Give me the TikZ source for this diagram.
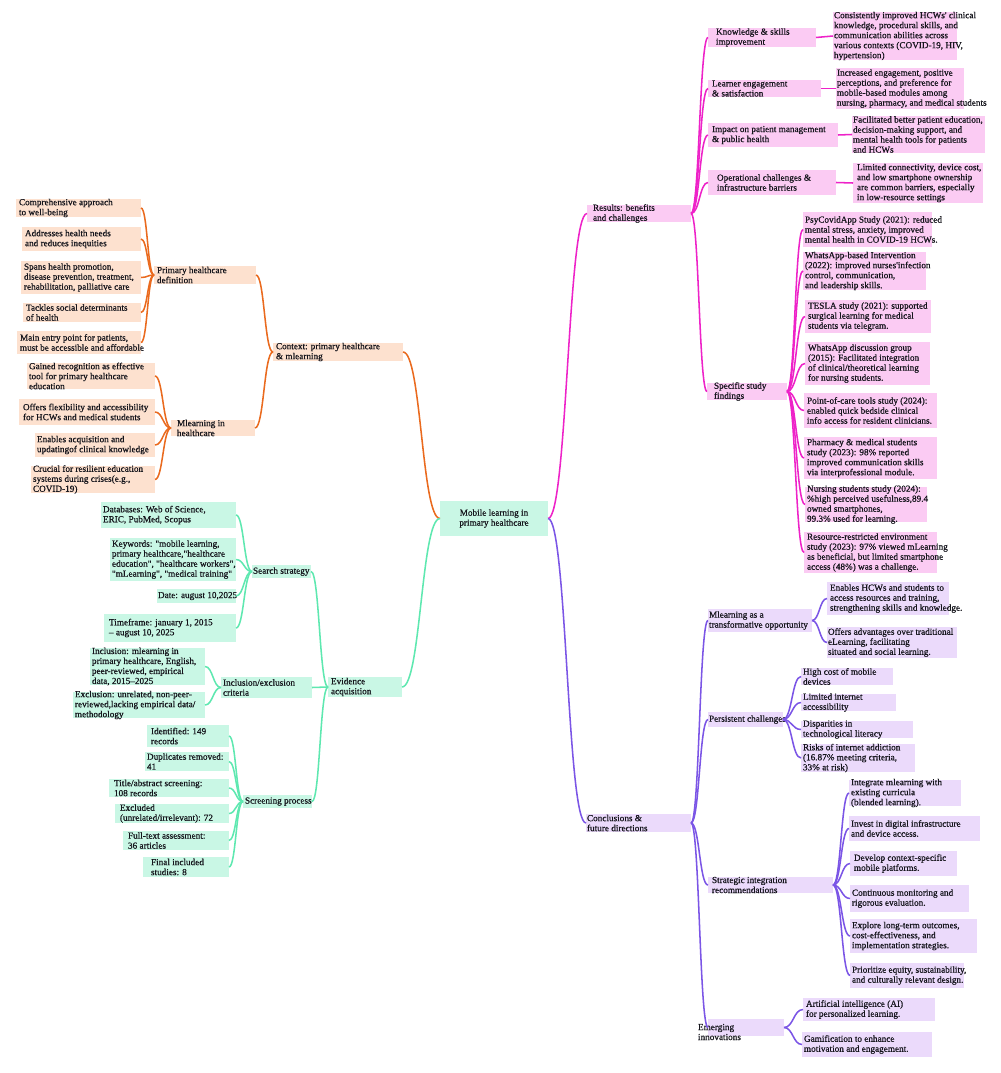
\documentclass[tikz,border=0pt]{standalone}
\usepackage{fontspec}
\setmainfont[FakeBold=0.7,Ligatures=TeXOff]{Liberation Serif}
\usetikzlibrary{calc}
\definecolor{oL}{HTML}{EA6A1E}
\definecolor{oF}{HTML}{FDE1CF}
\definecolor{gL}{HTML}{5EE8B0}
\definecolor{gF}{HTML}{C9F7E5}
\definecolor{mL}{HTML}{EE22C8}
\definecolor{mF}{HTML}{FBCBF3}
\definecolor{pL}{HTML}{7B55E6}
\definecolor{pF}{HTML}{EBDAFB}
\definecolor{txc}{HTML}{15151C}
\tikzset{
  bxs/.style={inner sep=0pt,outer sep=0pt,draw=none,rectangle},
  txt/.style={anchor=west,inner sep=0pt,outer sep=0pt,align=left,text=txc,font=\fontsize{6.9}{7.5}\selectfont},
  mmcurve/.style={to path={let \p1=(\tikztostart), \p2=(\tikztotarget) in .. controls ({0.5*\x1+0.5*\x2},\y1) and ({0.5*\x1+0.5*\x2},\y2) .. (\tikztotarget)}},
  lnk/.style={line width=1.15pt,#1},
}
\newcommand\bx[8][3]{%
  \node[bxs,fill=#7,minimum width={(#5-#3)*0.75pt},minimum height={(#6-#4)*0.75pt}] (#2) at ({(#3+#5)/2},{(#4+#6)/2}) {};
  \node[txt] (#2t) at ([xshift={#1*0.75pt}]#2.west) {#8};}
\begin{document}
\begin{tikzpicture}[x=0.75pt,y=-0.75pt]
\useasboundingbox[fill=white] (0,0) rectangle (1000,1073);
% central
\node[bxs,fill=gF,minimum width=81pt,minimum height=26.25pt] (ctr) at (494,518.5) {};
\node[txt,anchor=center,align=center] (ctrt) at (ctr) {Mobile learning in\\primary healthcare};
% ---------- orange branch
\bx{c1}{273}{343}{403}{361}{oF}{Context: primary healthcare\\\& mlearning}
\bx{p1}{154}{266}{256}{284}{oF}{Primary healthcare\\definition}
\bx{p1a}{16}{199}{141}{217}{oF}{Comprehensive approach\\to well-being}
\bx{p1b}{22}{227}{141}{251}{oF}{Addresses health needs\\and reduces inequities}
\bx{p1c}{21}{261}{141}{294}{oF}{Spans health promotion,\\disease prevention, treatment,\\rehabilitation, palliative care}
\bx{p1d}{23}{303}{141}{322}{oF}{Tackles social determinants\\of health}
\bx{p1e}{17}{331}{141}{354}{oF}{Main entry point for patients,\\must be accessible and affordable}
\bx[6]{p2}{171}{420}{255}{436}{oF}{Mlearning in\\healthcare}
\bx[2]{p2a}{27}{363}{155}{389}{oF}{Gained recognition as effective\\tool for primary healthcare\\education}
\bx[4]{p2b}{19}{399}{155}{425}{oF}{Offers flexibility and accessibility\\for HCWs and medical students}
\bx[2]{p2c}{35}{433}{155}{457}{oF}{Enables acquisition and\\updatingof clinical knowledge}
\bx[2]{p2d}{31}{466}{155}{493}{oF}{Crucial for resilient education\\systems during crises(e.g.,\\COVID-19)}
% ---------- green branch
\bx{ev}{328}{677}{402}{697}{gF}{Evidence\\acquisition}
\bx[1]{s1}{252}{565}{311}{578}{gF}{Search strategy}
\bx[2]{s1a}{101}{502}{236}{528}{gF}{Databases: Web of Science,\\ERIC, PubMed, Scopus}
\bx[2]{s1b}{110}{538}{236}{581}{gF}{Keywords: "mobile learning,\\primary healthcare,"healthcare\\education", "healthcare workers",\\"mLearning", "medical training"}
\bx[1]{s1c}{157}{589}{236}{603}{gF}{Date: august 10,2025}
\bx[5]{s1d}{104}{614}{236}{642}{gF}{Timeframe: january 1, 2015\\– august 10, 2025}
\bx[2]{s2}{221}{677}{312}{698}{gF}{Inclusion/exclusion\\criteria}
\bx[2]{s2a}{90}{648}{205}{685}{gF}{Inclusion: mlearning in\\primary healthcare, English,\\peer-reviewed, empirical\\data, 2015–2025}
\bx[2]{s2b}{73}{692}{205}{718}{gF}{Exclusion: unrelated, non-peer-\\reviewed,lacking empirical data/\\methodology}
\bx[2]{s3}{243}{795}{312}{808}{gF}{Screening process}
\bx[4]{s3a}{147}{725}{229}{747}{gF}{Identified: 149\\records}
\bx[2]{s3b}{145}{752}{229}{771}{gF}{Duplicates removed:\\41}
\bx[5]{s3c}{109}{779}{229}{797}{gF}{Title/abstract screening:\\108 records}
\bx[5]{s3d}{115}{804}{229}{823}{gF}{Excluded\\(unrelated/irrelevant): 72}
\bx[5]{s3e}{123}{831}{229}{850}{gF}{Full-text assessment:\\36 articles}
\bx[8]{s3f}{143}{857}{229}{877}{gF}{Final included\\studies: 8}
% ---------- magenta branch
\bx[6]{r}{587}{205}{691}{222}{mF}{Results: benefits\\and challenges}
\bx[8]{r1}{708}{28}{816}{47}{mF}{Knowledge \& skills\\improvement}
\bx[1]{r1a}{833}{12}{957}{60}{mF}{Consistently improved HCWs' clinical\\knowledge, procedural skills, and\\communication abilities across\\various contexts (COVID-19, HIV,\\hypertension)}
\bx[4]{r2}{708}{80}{821}{97}{mF}{Learner engagement\\\& satisfaction}
\bx[1]{r2a}{836}{68}{964}{109}{mF}{Increased engagement, positive\\perceptions, and preference for\\mobile-based modules among\\nursing, pharmacy, and medical students}
\bx[4]{r3}{708}{123}{838}{147}{mF}{Impact on patient management\\\& public health}
\bx[1]{r3a}{852}{116}{985}{153}{mF}{Facilitated better patient education,\\decision-making support, and\\mental health tools for patients\\and HCWs}
\bx[9]{r4}{708}{170}{836}{195}{mF}{Operational challenges \&\\infrastructure barriers}
\bx[4]{r4a}{853}{163}{983}{203}{mF}{Limited connectivity, device cost,\\and low smartphone ownership\\are common barriers, especially\\in low-resource settings}
\bx[7]{r5}{707}{383}{787}{400}{mF}{Specific study\\findings}
\bx[2]{r5a}{803}{212}{932}{247}{mF}{PsyCovidApp Study (2021): reduced\\mental stress, anxiety, improved\\mental health in COVID-19 HCWs.}
\bx[2]{r5b}{803}{252}{926}{290}{mF}{WhatsApp-based Intervention\\(2022): improved nurses'infection\\control, communication,\\and leadership skills.}
\bx[3]{r5c}{805}{300}{931}{333}{mF}{TESLA study (2021): supported\\surgical learning for medical\\students via telegram.}
\bx[3]{r5d}{805}{342}{930}{385}{mF}{WhatsApp discussion group\\(2015): Facilitated integration\\of clinical/theoretical learning\\for nursing students.}
\bx[3]{r5e}{804}{393}{937}{428}{mF}{Point-of-care tools study (2024):\\enabled quick bedside clinical\\info access for resident clinicians.}
\bx[3]{r5f}{804}{437}{937}{479}{mF}{Pharmacy \& medical students\\study (2023): 98\% reported\\improved communication skills\\via interprofessional module.}
\bx[2]{r5g}{805}{487}{927}{522}{mF}{Nursing students study (2024):\\\%high perceived usefulness,89.4\\owned smartphones,\\99.3\% used for learning.}
\bx[3]{r5h}{804}{532}{937}{573}{mF}{Resource-restricted environment\\study (2023): 97\% viewed mLearning\\as beneficial, but limited smartphone\\access (48\%) was a challenge.}
% ---------- purple branch
\bx[1]{k}{586}{814}{691}{832}{pF}{Conclusions \&\\future directions}
\bx[1]{k1}{708}{609}{812}{632}{pF}{Mlearning as a\\transformative opportunity}
\bx[3]{k1a}{827}{582}{949}{615}{pF}{Enables HCWs and students to\\access resources and training,\\strengthening skills and knowledge.}
\bx[1]{k1b}{827}{627}{957}{658}{pF}{Offers advantages over traditional\\eLearning, facilitating\\situated and social learning.}
\bx[1]{k2}{708}{712}{783}{727}{pF}{Persistent challenges}
\bx[2]{k2a}{801}{668}{893}{685}{pF}{High cost of mobile\\devices}
\bx[2]{k2b}{801}{694}{896}{711}{pF}{Limited internet\\accessibility}
\bx[2]{k2c}{801}{721}{913}{738}{pF}{Disparities in\\technological literacy}
\bx[2]{k2d}{801}{744}{915}{772}{pF}{Risks of internet addiction\\(16.87\% meeting criteria,\\33\% at risk)}
\bx[4]{k3}{708}{877}{833}{893}{pF}{Strategic integration\\recommendations}
\bx[2]{k3a}{849}{780}{961}{806}{pF}{Integrate mlearning with\\existing curricula\\(blended learning).}
\bx[2]{k3b}{849}{816}{980}{841}{pF}{Invest in digital infrastructure\\and device access.}
\bx[4]{k3c}{850}{851}{957}{876}{pF}{Develop context-specific\\mobile platforms.}
\bx[2]{k3d}{850}{885}{969}{912}{pF}{Continuous monitoring and\\rigorous evaluation.}
\bx[2]{k3e}{850}{919}{977}{953}{pF}{Explore long-term outcomes,\\cost-effectiveness, and\\implementation strategies.}
\bx[2]{k3f}{850}{963}{964}{988}{pF}{Prioritize equity, sustainability,\\and culturally relevant design.}
\node[bxs,fill=pF,minimum width=57pt,minimum height=12.75pt] (k4) at (746,1027.5) {};
\node[txt] (k4t) at ([xshift=-7.5pt,yshift=-3.4pt]k4.west) {Emerging\\innovations};
\bx[3]{k4a}{803}{998}{935}{1021}{pF}{Artificial intelligence (AI)\\for personalized learning.}
\bx[2]{k4b}{802}{1032}{932}{1057}{pF}{Gamification to enhance\\motivation and engagement.}
% ---------- connectors
\draw[lnk=oL] (c1.east) to[mmcurve] (ctr.west);
\foreach \a in {p1,p2} \draw[lnk=oL] (\a.east) to[mmcurve] (c1.west);
\foreach \a in {p1a,p1b,p1c,p1d,p1e} \draw[lnk=oL] (\a.east) to[mmcurve] (p1.west);
\foreach \a in {p2a,p2b,p2c,p2d} \draw[lnk=oL] (\a.east) to[mmcurve] (p2.west);
\draw[lnk=gL] (ev.east) to[mmcurve] (ctr.west);
\foreach \a in {s1,s2,s3} \draw[lnk=gL] (\a.east) to[mmcurve] (ev.west);
\foreach \a in {s1a,s1b,s1c,s1d} \draw[lnk=gL] (\a.east) to[mmcurve] (s1.west);
\foreach \a in {s2a,s2b} \draw[lnk=gL] (\a.east) to[mmcurve] (s2.west);
\foreach \a in {s3a,s3b,s3c,s3d,s3e,s3f} \draw[lnk=gL] (\a.east) to[mmcurve] (s3.west);
\draw[lnk=mL] (ctr.east) to[mmcurve] (r.west);
\foreach \a in {r1,r2,r3,r4,r5} \draw[lnk=mL] (r.east) to[mmcurve] (\a.west);
\draw[lnk=mL] (r1.east) to[mmcurve] (r1a.west);
\draw[lnk=mL] (r2.east) to[mmcurve] (r2a.west);
\draw[lnk=mL] (r3.east) to[mmcurve] (r3a.west);
\draw[lnk=mL] (r4.east) to[mmcurve] (r4a.west);
\foreach \a in {r5a,r5b,r5c,r5d,r5e,r5f,r5g,r5h} \draw[lnk=mL] (r5.east) to[mmcurve] (\a.west);
\draw[lnk=pL] (ctr.east) to[mmcurve] (k.west);
\foreach \a in {k1,k2,k3,k4} \draw[lnk=pL] (k.east) to[mmcurve] (\a.west);
\foreach \a in {k1a,k1b} \draw[lnk=pL] (k1.east) to[mmcurve] (\a.west);
\foreach \a in {k2a,k2b,k2c,k2d} \draw[lnk=pL] (k2.east) to[mmcurve] (\a.west);
\foreach \a in {k3a,k3b,k3c,k3d,k3e,k3f} \draw[lnk=pL] (k3.east) to[mmcurve] (\a.west);
\foreach \a in {k4a,k4b} \draw[lnk=pL] (k4.east) to[mmcurve] (\a.west);
\end{tikzpicture}
\end{document}
